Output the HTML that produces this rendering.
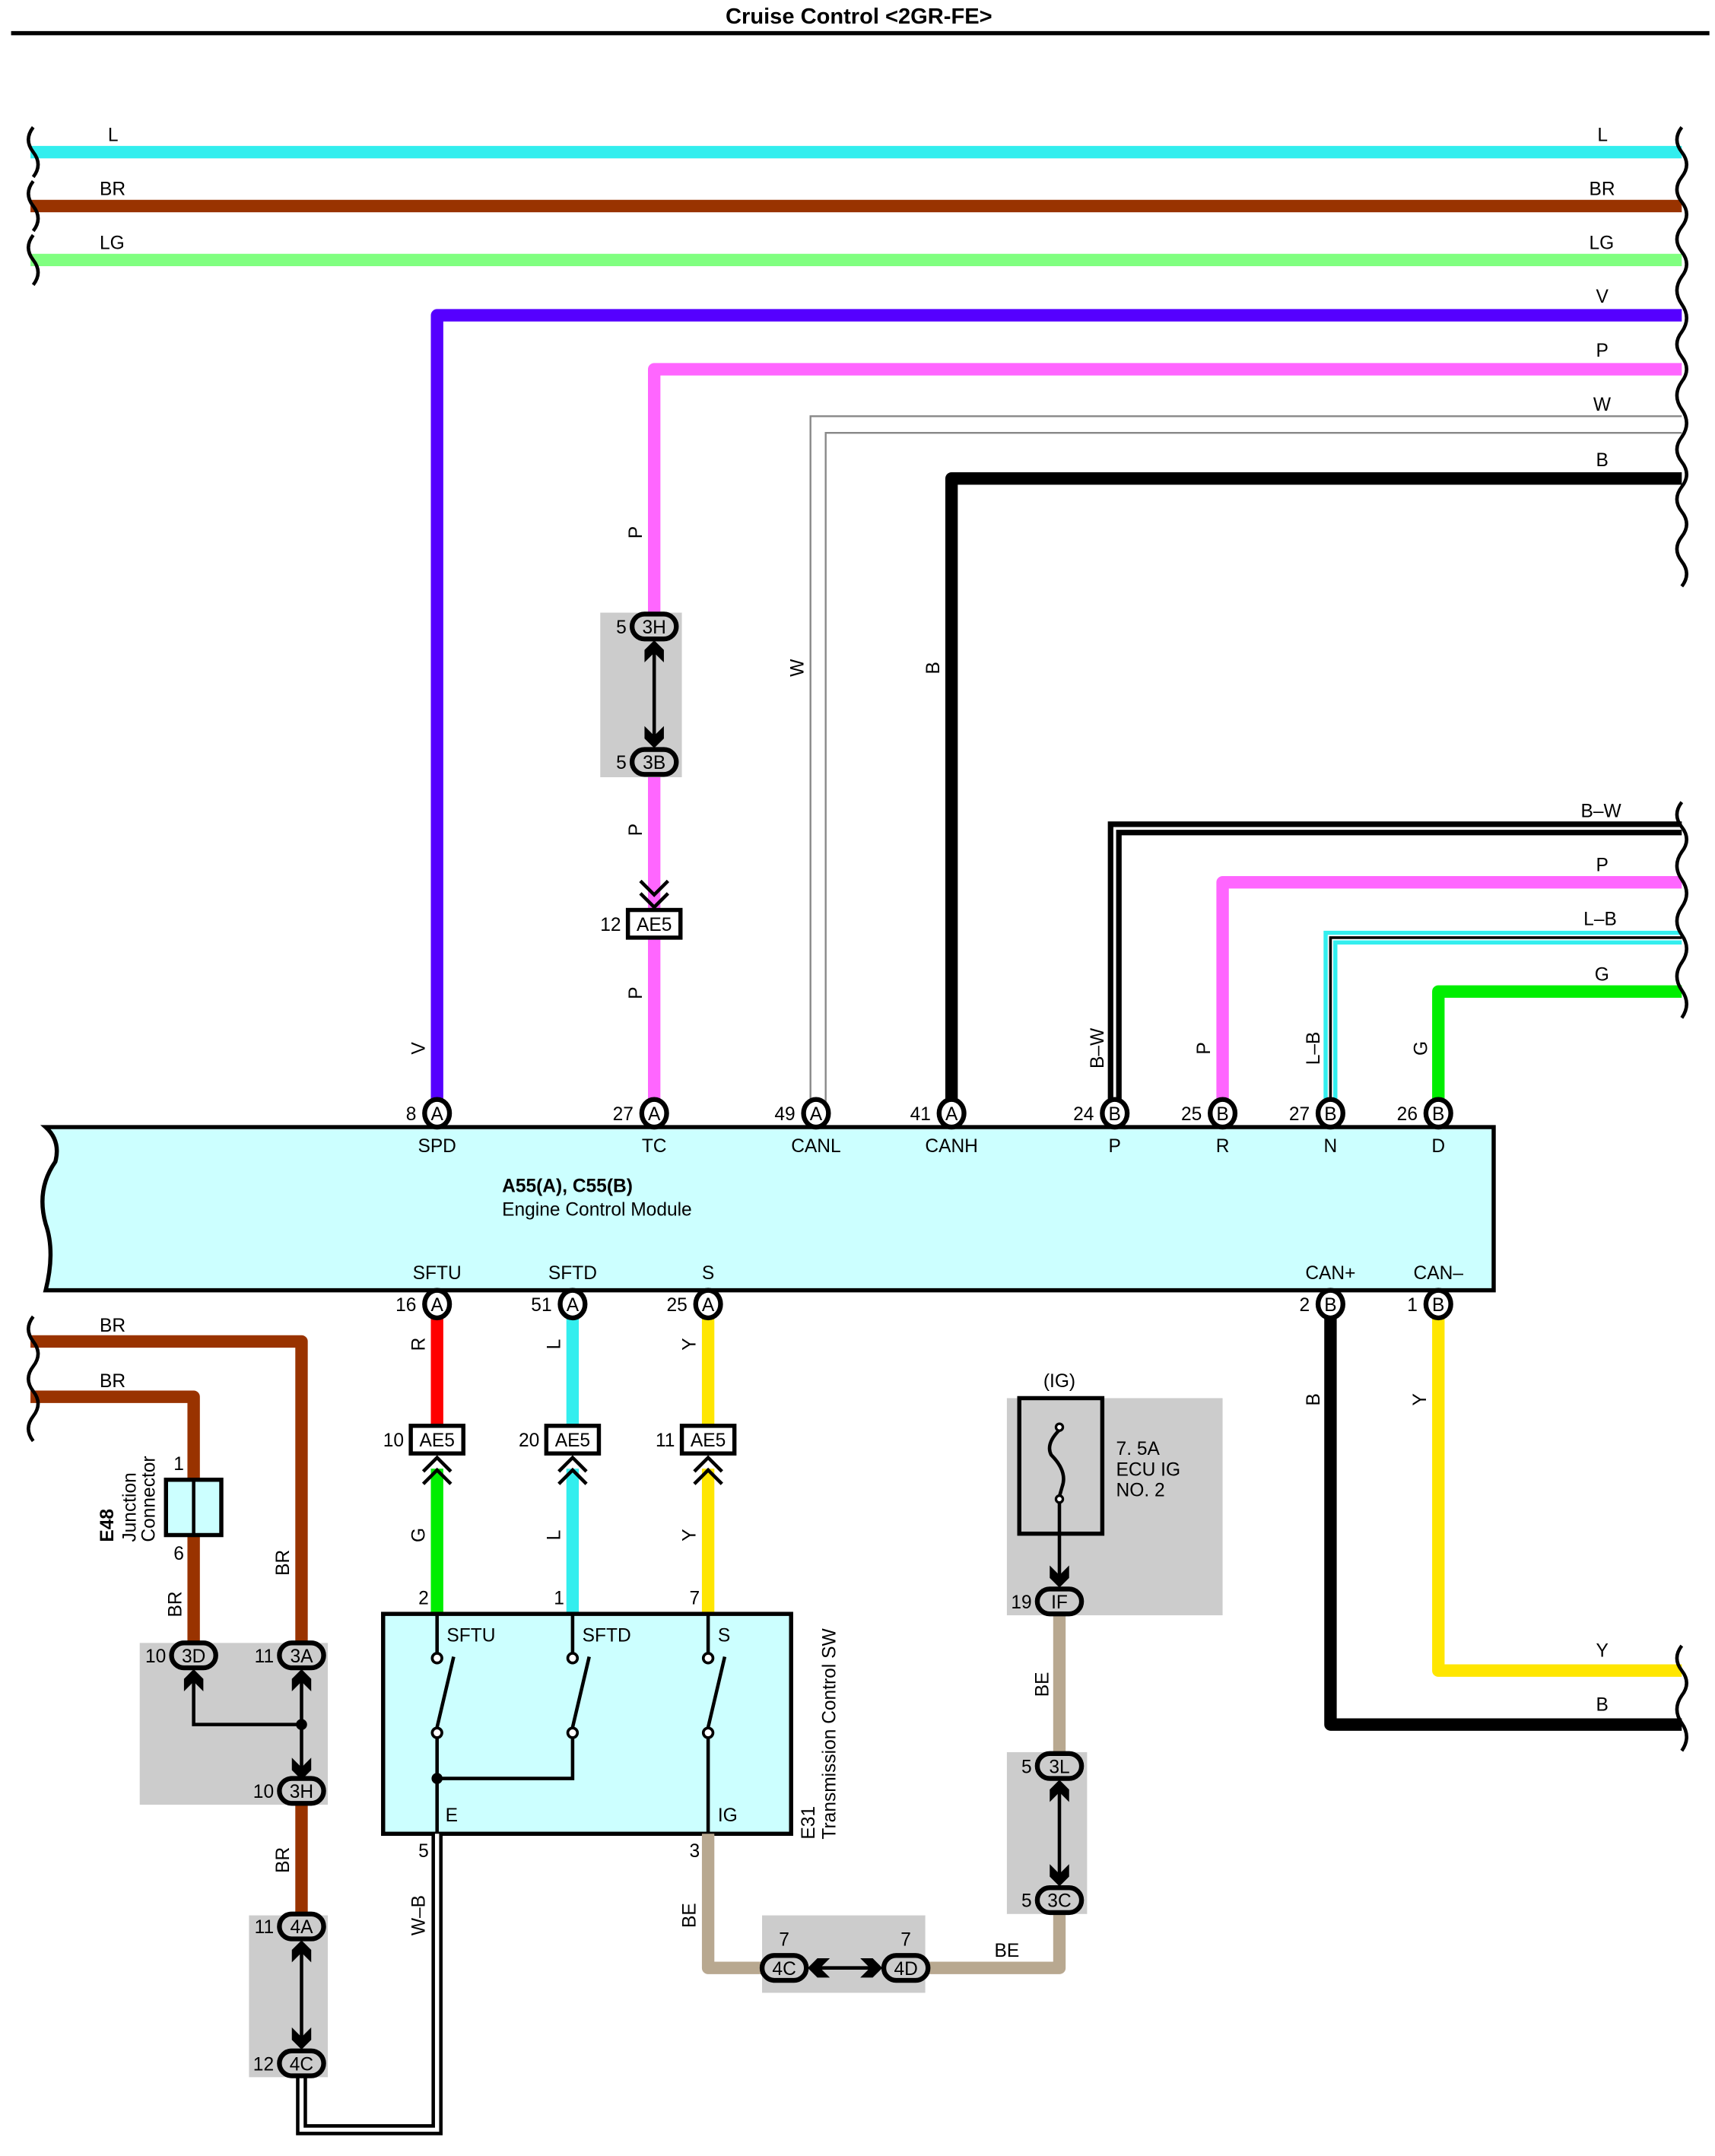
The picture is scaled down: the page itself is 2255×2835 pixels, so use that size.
<!DOCTYPE html>
<html><head><meta charset="utf-8"><style>
html,body{margin:0;padding:0;background:#fff}
svg{display:block}
text{font-family:"Liberation Sans",Arial,sans-serif;font-size:13.5px;fill:#000}
.c{text-anchor:middle}
.e{text-anchor:end}
.w{fill:none;stroke-width:9;stroke-linejoin:round;stroke-linecap:butt}
.t{fill:none;stroke:#000;stroke-width:2.5}
.pin{fill:#fff;stroke:#000;stroke-width:3.5}
.ov{fill:#ccc;stroke:#000;stroke-width:3.5}
.sq{fill:none;stroke:#000;stroke-width:2.5}
</style></head><body>
<svg width="2255" height="2835" viewBox="0 0 1240 1559" xmlns="http://www.w3.org/2000/svg">
<rect width="1240" height="1559" fill="#fff"/>
<text x="621" y="17" class="c" style="font-weight:bold;font-size:16px">Cruise Control &lt;2GR-FE&gt;</text>
<line x1="8" y1="24" x2="1236" y2="24" stroke="#000" stroke-width="3"/>

<!-- top horizontal wires -->
<path class="w" stroke="#33eeee" d="M22 110H1216"/>
<path class="w" stroke="#993300" d="M22 149H1216"/>
<path class="w" stroke="#80ff80" d="M22 188H1216"/>
<text x="78" y="102">L</text><text x="1155" y="102">L</text>
<text x="72" y="141">BR</text><text x="1149" y="141">BR</text>
<text x="72" y="180">LG</text><text x="1149" y="180">LG</text>
<!-- left squiggles -->
<path class="sq" d="M24 92q-7 9 0 18q7 9 0 18 M24 131q-7 9 0 18q7 9 0 18 M24 170q-7 9 0 18q7 9 0 18"/>
<!-- V -->
<path class="w" stroke="#5500ff" d="M316 797V228H1216"/>
<text x="1154" y="219">V</text>
<!-- P -->
<path class="w" stroke="#ff66ff" d="M473 797V267H1216"/>
<text x="1154" y="258">P</text>
<!-- W -->
<path fill="none" stroke="#888" stroke-width="1.3" d="M586 797V301H1216 M597 797V313H1216"/>
<text x="1152" y="297">W</text>
<!-- B -->
<path class="w" stroke="#000" d="M688 797V346H1216"/>
<text x="1154" y="337">B</text>
<!-- right squiggles top -->
<path class="sq" d="M1216 92q-7 9 0 18q7 9 0 18q-7 9 0 18q7 9 0 18q-7 9 0 18q7 9 0 18q-7 10 0 20q7 10 0 20q-7 9 0 18q7 9 0 18q-7 10 0 20q7 10 0 20q-7 9 0 18q7 9 0 18q-7 9 0 18q7 9 0 18q-7 9 0 18q7 9 0 18"/>

<!-- B-W -->
<path fill="none" stroke="#000" stroke-width="10" d="M806 797V599H1216"/>
<path fill="none" stroke="#fff" stroke-width="2" d="M806 797V599H1216"/>
<text x="1143" y="591">B–W</text>
<!-- P2 -->
<path class="w" stroke="#ff66ff" d="M884 797V638H1216"/>
<text x="1154" y="630">P</text>
<!-- L-B -->
<path fill="none" stroke="#33eeee" stroke-width="10" d="M962 797V678H1216"/>
<path fill="none" stroke="#fff" stroke-width="4" d="M962 797V678H1216"/>
<path fill="none" stroke="#000" stroke-width="2" d="M962 797V678H1216"/>
<text x="1145" y="669">L–B</text>
<!-- G -->
<path class="w" stroke="#00ee00" d="M1040 797V717H1216"/>
<text x="1153" y="709">G</text>
<path class="sq" d="M1216 580q-7 9 0 18q7 9 0 18q-7 10 0 20q7 10 0 20q-7 10 0 20q7 10 0 20q-7 10 0 20q7 10 0 20"/>

<!-- P connectors top -->
<rect x="434" y="443" width="59" height="119" fill="#ccc"/>
<line x1="473" y1="466" x2="473" y2="538" stroke="#000" stroke-width="2.5"/>
<polygon points="466,479 473,472 480,479 480,470 473,463 466,470"/>
<polygon points="466,525 473,532 480,525 480,534 473,541 466,534"/>
<rect x="457" y="444" width="32" height="18" rx="9" class="ov"/>
<text x="473" y="458" class="c">3H</text><text x="453" y="458" class="e">5</text>
<rect x="457" y="542" width="32" height="18" rx="9" class="ov"/>
<text x="473" y="556" class="c">3B</text><text x="453" y="556" class="e">5</text>
<polyline points="463,637 473,647 483,637" class="t" stroke-width="3"/>
<polyline points="463,646 473,656 483,646" class="t" stroke-width="3"/>
<rect x="454" y="658" width="38" height="20" fill="#fff" stroke="#000" stroke-width="3"/>
<text x="473" y="673" class="c">AE5</text><text x="449" y="673" class="e">12</text>

<!-- rotated labels upper -->
<g>
<text transform="translate(464,385) rotate(-90)" class="c">P</text>
<text transform="translate(464,600) rotate(-90)" class="c">P</text>
<text transform="translate(464,718) rotate(-90)" class="c">P</text>
<text transform="translate(581,483) rotate(-90)" class="c">W</text>
<text transform="translate(679,483) rotate(-90)" class="c">B</text>
<text transform="translate(307,758) rotate(-90)" class="c">V</text>
<text transform="translate(798,758) rotate(-90)" class="c">B–W</text>
<text transform="translate(875,758) rotate(-90)" class="c">P</text>
<text transform="translate(954,758) rotate(-90)" class="c">L–B</text>
<text transform="translate(1032,758) rotate(-90)" class="c">G</text>
</g>

<!-- ECM -->
<path d="M33 815H1080V933H33Q40 905 33 885Q26 860 40 840Q44 825 33 815Z" fill="#ccffff" stroke="#000" stroke-width="3"/>
<text x="363" y="862" style="font-weight:bold">A55(A), C55(B)</text>
<text x="363" y="879">Engine Control Module</text>
<g>
<ellipse cx="316" cy="805" rx="9" ry="10" class="pin"/><text x="316" y="810" class="c">A</text><text x="301" y="810" class="e">8</text>
<ellipse cx="473" cy="805" rx="9" ry="10" class="pin"/><text x="473" y="810" class="c">A</text><text x="458" y="810" class="e">27</text>
<ellipse cx="590" cy="805" rx="9" ry="10" class="pin"/><text x="590" y="810" class="c">A</text><text x="575" y="810" class="e">49</text>
<ellipse cx="688" cy="805" rx="9" ry="10" class="pin"/><text x="688" y="810" class="c">A</text><text x="673" y="810" class="e">41</text>
<ellipse cx="806" cy="805" rx="9" ry="10" class="pin"/><text x="806" y="810" class="c">B</text><text x="791" y="810" class="e">24</text>
<ellipse cx="884" cy="805" rx="9" ry="10" class="pin"/><text x="884" y="810" class="c">B</text><text x="869" y="810" class="e">25</text>
<ellipse cx="962" cy="805" rx="9" ry="10" class="pin"/><text x="962" y="810" class="c">B</text><text x="947" y="810" class="e">27</text>
<ellipse cx="1040" cy="805" rx="9" ry="10" class="pin"/><text x="1040" y="810" class="c">B</text><text x="1025" y="810" class="e">26</text>
</g>
<text x="316" y="833" class="c">SPD</text><text x="473" y="833" class="c">TC</text><text x="590" y="833" class="c">CANL</text><text x="688" y="833" class="c">CANH</text>
<text x="806" y="833" class="c">P</text><text x="884" y="833" class="c">R</text><text x="962" y="833" class="c">N</text><text x="1040" y="833" class="c">D</text>
<text x="316" y="925" class="c">SFTU</text><text x="414" y="925" class="c">SFTD</text><text x="512" y="925" class="c">S</text>
<text x="962" y="925" class="c">CAN+</text><text x="1040" y="925" class="c">CAN–</text>

<!-- lower ECM wires -->
<path class="w" stroke="#ff0000" d="M316 952V1031"/>
<path class="w" stroke="#33eeee" d="M414 952V1031"/>
<path class="w" stroke="#ffe600" d="M512 952V1031"/>
<path class="w" stroke="#00ee00" d="M316 1062V1167"/>
<path class="w" stroke="#33eeee" d="M414 1062V1167"/>
<path class="w" stroke="#ffe600" d="M512 1062V1167"/>
<path class="w" stroke="#000" d="M962 952V1247H1216"/>
<path class="w" stroke="#ffe600" d="M1040 952V1208H1216"/>
<text x="1154" y="1198">Y</text><text x="1154" y="1237">B</text>
<path class="sq" d="M1216 1190q-7 9 0 18q7 9 0 18q-7 10 0 20q7 10 0 20"/>

<g>
<ellipse cx="316" cy="943" rx="9" ry="10" class="pin"/><text x="316" y="948" class="c">A</text><text x="301" y="948" class="e">16</text>
<ellipse cx="414" cy="943" rx="9" ry="10" class="pin"/><text x="414" y="948" class="c">A</text><text x="399" y="948" class="e">51</text>
<ellipse cx="512" cy="943" rx="9" ry="10" class="pin"/><text x="512" y="948" class="c">A</text><text x="497" y="948" class="e">25</text>
<ellipse cx="962" cy="943" rx="9" ry="10" class="pin"/><text x="962" y="948" class="c">B</text><text x="947" y="948" class="e">2</text>
<ellipse cx="1040" cy="943" rx="9" ry="10" class="pin"/><text x="1040" y="948" class="c">B</text><text x="1025" y="948" class="e">1</text>
</g>
<!-- AE5 lower -->
<g>
<rect x="297" y="1031" width="38" height="20" fill="#fff" stroke="#000" stroke-width="3"/><text x="316" y="1046" class="c">AE5</text><text x="292" y="1046" class="e">10</text>
<rect x="395" y="1031" width="38" height="20" fill="#fff" stroke="#000" stroke-width="3"/><text x="414" y="1046" class="c">AE5</text><text x="390" y="1046" class="e">20</text>
<rect x="493" y="1031" width="38" height="20" fill="#fff" stroke="#000" stroke-width="3"/><text x="512" y="1046" class="c">AE5</text><text x="488" y="1046" class="e">11</text>
<polyline points="306,1064 316,1054 326,1064" class="t" stroke-width="3"/><polyline points="306,1073 316,1063 326,1073" class="t" stroke-width="3"/>
<polyline points="404,1064 414,1054 424,1064" class="t" stroke-width="3"/><polyline points="404,1073 414,1063 424,1073" class="t" stroke-width="3"/>
<polyline points="502,1064 512,1054 522,1064" class="t" stroke-width="3"/><polyline points="502,1073 512,1063 522,1073" class="t" stroke-width="3"/>
</g>
<text transform="translate(307,972) rotate(-90)" class="c">R</text>
<text transform="translate(405,972) rotate(-90)" class="c">L</text>
<text transform="translate(503,972) rotate(-90)" class="c">Y</text>
<text transform="translate(307,1110) rotate(-90)" class="c">G</text>
<text transform="translate(405,1110) rotate(-90)" class="c">L</text>
<text transform="translate(503,1110) rotate(-90)" class="c">Y</text>
<text transform="translate(954,1012) rotate(-90)" class="c">B</text>
<text transform="translate(1031,1012) rotate(-90)" class="c">Y</text>

<!-- Transmission control SW -->
<rect x="277" y="1167" width="295" height="159" fill="#ccffff" stroke="#000" stroke-width="3"/>
<text x="310" y="1160" class="e">2</text><text x="408" y="1160" class="e">1</text><text x="506" y="1160" class="e">7</text>
<text x="323" y="1187">SFTU</text><text x="421" y="1187">SFTD</text><text x="519" y="1187">S</text>
<text x="322" y="1317">E</text><text x="519" y="1317">IG</text>
<g stroke="#000" stroke-width="2.5" fill="none">
<path d="M316 1167V1195 M316 1257V1326 M414 1167V1195 M414 1257V1286H316 M512 1167V1195 M512 1257V1326"/>
<path d="M316 1249L328 1198 M414 1249L426 1198 M512 1249L524 1198"/>
</g>
<g fill="#fff" stroke="#000" stroke-width="2">
<circle cx="316" cy="1199" r="3.5"/><circle cx="316" cy="1253" r="3.5"/>
<circle cx="414" cy="1199" r="3.5"/><circle cx="414" cy="1253" r="3.5"/>
<circle cx="512" cy="1199" r="3.5"/><circle cx="512" cy="1253" r="3.5"/>
</g>
<circle cx="316" cy="1286" r="4"/>
<text transform="translate(589,1330) rotate(-90)">E31</text>
<text transform="translate(604,1330) rotate(-90)">Transmission Control SW</text>
<text x="310" y="1343" class="e">5</text><text x="506" y="1343" class="e">3</text>

<!-- W-B -->
<path fill="none" stroke="#000" stroke-width="8" d="M316 1326V1540H218V1502"/>
<path fill="none" stroke="#fff" stroke-width="3" d="M316 1326V1540H218V1502"/>
<text transform="translate(307,1385) rotate(-90)" class="c">W–B</text>

<!-- BE -->
<path class="w" stroke="#b8a890" d="M512 1326V1423H766V1168"/>
<text transform="translate(503,1385) rotate(-90)" class="c">BE</text>
<text x="728" y="1415" class="c">BE</text>
<text transform="translate(758,1218) rotate(-90)" class="c">BE</text>
<rect x="551" y="1385" width="118" height="56" fill="#ccc"/>
<line x1="590" y1="1423" x2="632" y2="1423" stroke="#000" stroke-width="2.5"/>
<polygon points="600,1416 593,1423 600,1430 591,1430 584,1423 591,1416"/>
<polygon points="622,1416 629,1423 622,1430 631,1430 638,1423 631,1416"/>
<rect x="551" y="1414" width="32" height="18" rx="9" class="ov"/><text x="567" y="1428" class="c">4C</text><text x="567" y="1407" class="c">7</text>
<rect x="639" y="1414" width="32" height="18" rx="9" class="ov"/><text x="655" y="1428" class="c">4D</text><text x="655" y="1407" class="c">7</text>
<rect x="728" y="1267" width="58" height="117" fill="#ccc"/>
<line x1="766" y1="1290" x2="766" y2="1361" stroke="#000" stroke-width="2.5"/>
<polygon points="759,1303 766,1296 773,1303 773,1294 766,1287 759,1294"/>
<polygon points="759,1348 766,1355 773,1348 773,1357 766,1364 759,1357"/>
<rect x="750" y="1268" width="32" height="18" rx="9" class="ov"/><text x="766" y="1282" class="c">3L</text><text x="746" y="1282" class="e">5</text>
<rect x="750" y="1365" width="32" height="18" rx="9" class="ov"/><text x="766" y="1379" class="c">3C</text><text x="746" y="1379" class="e">5</text>

<!-- fuse -->
<rect x="728" y="1011" width="156" height="157" fill="#ccc"/>
<rect x="737" y="1011" width="60" height="98" fill="#ccc" stroke="#000" stroke-width="3"/>
<text x="766" y="1003" class="c">(IG)</text>
<text x="807" y="1052">7. 5A</text><text x="807" y="1067">ECU IG</text><text x="807" y="1082">NO. 2</text>
<path d="M766 1034Q756 1044 760 1052Q772 1064 768 1075 L766 1082" fill="none" stroke="#000" stroke-width="2.5"/>
<circle cx="766" cy="1032" r="2.5" fill="#fff" stroke="#000" stroke-width="1.8"/>
<circle cx="766" cy="1084" r="2.5" fill="#fff" stroke="#000" stroke-width="1.8"/>
<line x1="766" y1="1087" x2="766" y2="1145" stroke="#000" stroke-width="2.5"/>
<polygon points="759,1132 766,1139 773,1132 773,1141 766,1148 759,1141"/>
<rect x="750" y="1149" width="32" height="18" rx="9" class="ov"/><text x="766" y="1163" class="c">IF</text><text x="746" y="1163" class="e">19</text>

<!-- left BR -->
<path class="w" stroke="#993300" d="M22 970H218V1188"/>
<path class="w" stroke="#993300" d="M22 1010H140V1188"/>
<path class="w" stroke="#993300" d="M218 1305V1385"/>
<path class="sq" d="M24 952q-7 9 0 18q7 9 0 18q-7 9 0 18q7 9 0 18q-7 9 0 18"/>
<text x="72" y="963">BR</text><text x="72" y="1003">BR</text>
<rect x="120" y="1070" width="40" height="40" fill="#ccffff" stroke="#000" stroke-width="3"/>
<line x1="140" y1="1070" x2="140" y2="1110" stroke="#000" stroke-width="2.5"/>
<text x="133" y="1063" class="e">1</text><text x="133" y="1128" class="e">6</text>
<text transform="translate(82,1115) rotate(-90)" style="font-weight:bold">E48</text>
<text transform="translate(98,1115) rotate(-90)">Junction</text>
<text transform="translate(112,1115) rotate(-90)">Connector</text>
<text transform="translate(209,1130) rotate(-90)" class="c">BR</text>
<text transform="translate(131,1160) rotate(-90)" class="c">BR</text>
<text transform="translate(209,1345) rotate(-90)" class="c">BR</text>
<rect x="101" y="1188" width="136" height="117" fill="#ccc"/>
<path d="M140 1212V1247H218 M218 1212V1282" fill="none" stroke="#000" stroke-width="2.5"/>
<circle cx="218" cy="1247" r="4"/>
<polygon points="133,1223 140,1216 147,1223 147,1214 140,1207 133,1214"/>
<polygon points="211,1223 218,1216 225,1223 225,1214 218,1207 211,1214"/>
<polygon points="211,1271 218,1278 225,1271 225,1280 218,1287 211,1280"/>
<rect x="124" y="1188" width="32" height="18" rx="9" class="ov"/><text x="140" y="1202" class="c">3D</text><text x="120" y="1202" class="e">10</text>
<rect x="202" y="1188" width="32" height="18" rx="9" class="ov"/><text x="218" y="1202" class="c">3A</text><text x="198" y="1202" class="e">11</text>
<rect x="202" y="1286" width="32" height="18" rx="9" class="ov"/><text x="218" y="1300" class="c">3H</text><text x="198" y="1300" class="e">10</text>
<rect x="180" y="1385" width="57" height="117" fill="#ccc"/>
<line x1="218" y1="1406" x2="218" y2="1479" stroke="#000" stroke-width="2.5"/>
<polygon points="211,1419 218,1412 225,1419 225,1410 218,1403 211,1410"/>
<polygon points="211,1466 218,1473 225,1466 225,1475 218,1482 211,1475"/>
<rect x="202" y="1384" width="32" height="18" rx="9" class="ov"/><text x="218" y="1398" class="c">4A</text><text x="198" y="1398" class="e">11</text>
<rect x="202" y="1483" width="32" height="18" rx="9" class="ov"/><text x="218" y="1497" class="c">4C</text><text x="198" y="1497" class="e">12</text>
</svg>
</body></html>
